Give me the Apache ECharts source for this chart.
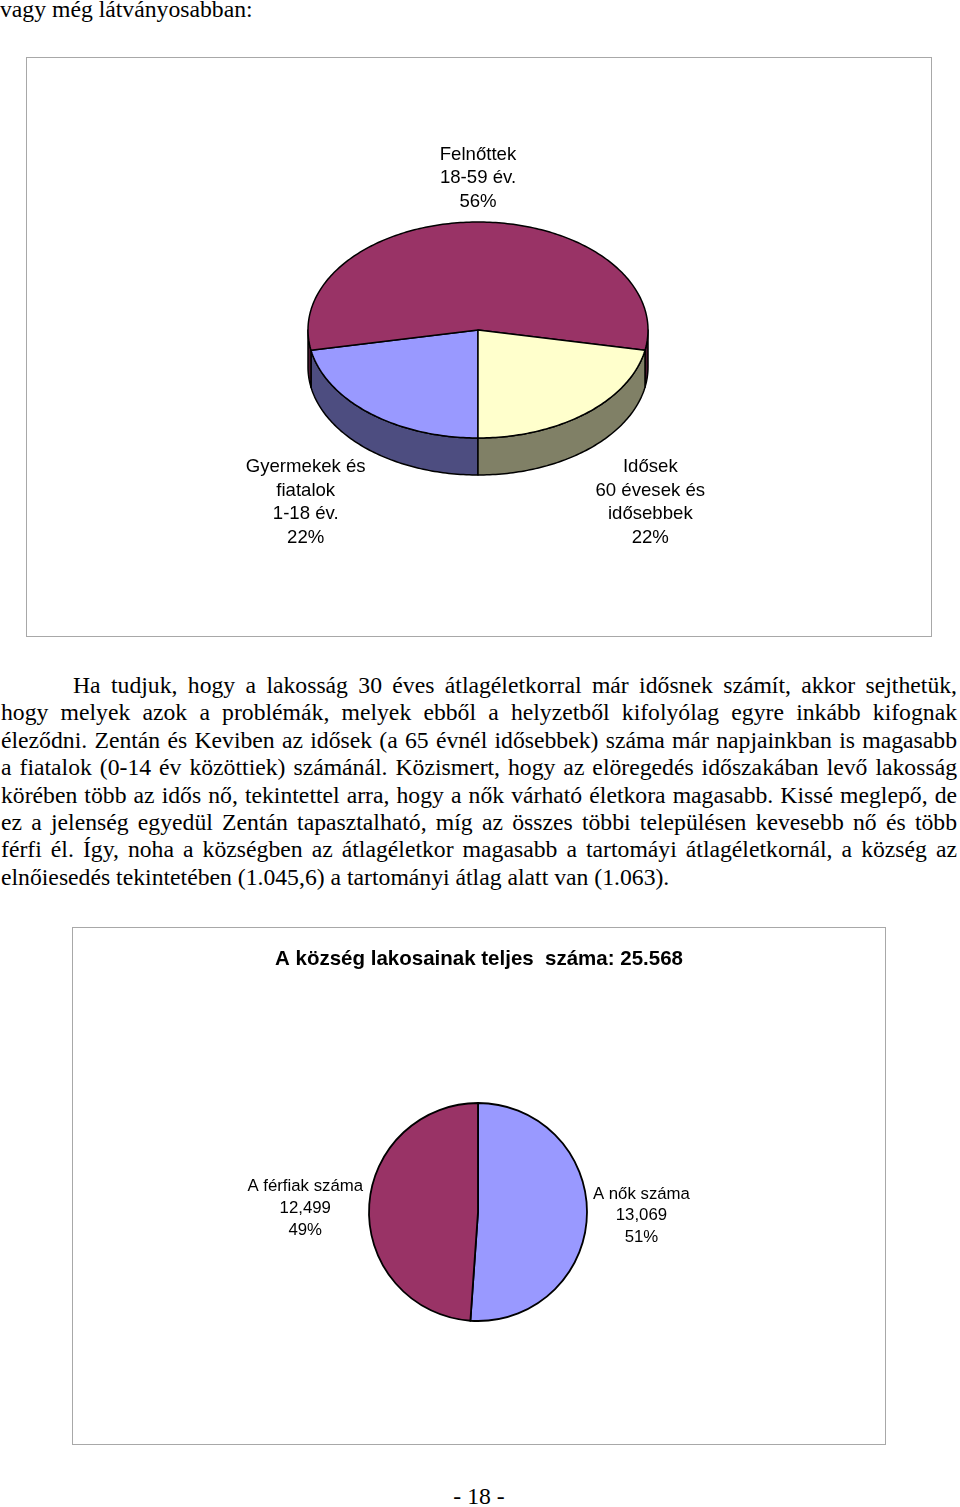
<!DOCTYPE html>
<html><head><meta charset="utf-8">
<script src="https://cdn.jsdelivr.net/npm/echarts@6/dist/echarts.min.js"></script>
<style>
html,body{margin:0;padding:0;background:#fff;width:960px;height:1507px;overflow:hidden;position:relative;}
.serif{font-family:"Liberation Serif","Times New Roman",serif;font-size:23.7px;line-height:27.4px;color:#000;position:absolute;}
.box{position:absolute;border:1.5px solid #a8a8a8;box-sizing:border-box;}
.chart{position:absolute;}
.pl{width:956px;box-sizing:border-box;text-align:justify;text-align-last:justify;}
.pl.last{text-align:left;text-align-last:left;}
</style></head><body>
<div class="serif" style="left:0;top:-4px;white-space:nowrap;">vagy még látványosabban:</div>
<div class="box" style="left:26px;top:57px;width:906px;height:580px"></div>
<div id="c1" class="chart" style="left:26px;top:57px;width:906px;height:580px"></div>
<div id="para" class="serif" style="left:1px;top:672px;width:956px;"></div>
<div class="box" style="left:72px;top:927px;width:814px;height:518px"></div>
<div id="c2" class="chart" style="left:72px;top:927px;width:814px;height:518px"></div>
<div class="serif" style="left:0;width:958px;text-align:center;top:1483px;">- 18 -</div>
<script>
// ---- Chart 1 data ----
const cats1 = ['Gyermekek és\nfiatalok\n1-18 év.', 'Felnőttek\n18-59 év.', 'Idősek\n60 évesek és\nidősebbek'];
const vals1 = [22, 56, 22];
// ---- Chart 2 data ----
const title2 = 'A község lakosainak teljes  száma: 25.568';
const cats2 = ['A nők száma', 'A férfiak száma'];
const vals2 = [13069, 12499];
// ---- Paragraph text ----
const paraLines = [
 'Ha tudjuk, hogy a lakosság 30 éves átlagéletkorral már idősnek számít, akkor sejthetük,',
 'hogy melyek azok a problémák, melyek ebből a helyzetből kifolyólag egyre inkább kifognak',
 'éleződni. Zentán és Keviben az idősek (a 65 évnél idősebbek) száma már napjainkban is magasabb',
 'a fiatalok (0-14 év közöttiek) számánál. Közismert, hogy az elöregedés időszakában levő lakosság',
 'körében több az idős nő, tekintettel arra, hogy a nők várható életkora magasabb. Kissé meglepő, de',
 'ez a jelenség egyedül Zentán tapasztalható, míg az összes többi településen kevesebb nő és több',
 'férfi él. Így, noha a községben az átlagéletkor magasabb a tartomáyi átlagéletkornál, a község az',
 'elnőiesedés tekintetében (1.045,6) a tartományi átlag alatt van (1.063).'
];

// styles
const topColors1 = ['#9999ff', '#993366', '#ffffcc'];
const sideColors1 = ['#4d4d80', '#4d1a33', '#808066'];
const colors2 = ['#9999ff', '#993366'];

const para = document.getElementById('para');
paraLines.forEach((t, i) => {
  const d = document.createElement('div');
  d.className = 'pl' + (i === paraLines.length - 1 ? ' last' : '');
  if (i === 0) d.style.paddingLeft = '72px';
  d.textContent = t;
  para.appendChild(d);
});

// ---- Chart 1: 3D pie via custom series ----
const P = {cx: 452, cy: 273, rx: 170, ry: 108, depth: 37, start: 270};
const tot1 = vals1.reduce((a, b) => a + b, 0);
const ang1 = [];
(function(){ let s = P.start; vals1.forEach(v => { const e = s - v / tot1 * 360; ang1.push([s, e]); s = e; }); })();
function ept(deg, dy) { const t = deg * Math.PI / 180; return [P.cx + P.rx * Math.cos(t), P.cy - P.ry * Math.sin(t) + (dy || 0)]; }
function arc(a, b, dy) { const n = Math.max(2, Math.ceil(Math.abs(b - a))); const pts = []; for (let j = 0; j <= n; j++) pts.push(ept(a + (b - a) * j / n, dy)); return pts; }
const edge = {stroke: '#000', lineWidth: 1.5, lineJoin: 'round'};

const c1 = echarts.init(document.getElementById('c1'));
c1.setOption({
  animation: false,
  series: [
    {
      type: 'custom', coordinateSystem: 'none', data: vals1, silent: true,
      renderItem: function (params) {
        const i = params.dataIndex, hi = ang1[i][0], lo = ang1[i][1];
        const ch = [];
        for (let k = -2; k <= 2; k++) {
          const a = Math.max(lo, 180 + 360 * k), b = Math.min(hi, 360 + 360 * k);
          if (b - a > 0.01) {
            ch.push({type: 'polygon', shape: {points: arc(a, b, 0).concat(arc(b, a, P.depth))},
              style: Object.assign({fill: sideColors1[i]}, edge)});
          }
        }
        return {type: 'group', children: ch};
      }
    },
    {
      type: 'custom', coordinateSystem: 'none', data: vals1, silent: true,
      renderItem: function (params, api) {
        const i = params.dataIndex, hi = ang1[i][0], lo = ang1[i][1];
        const pts = [[P.cx, P.cy]].concat(arc(hi, lo, 0));
        const m = (hi + lo) / 2 * Math.PI / 180, sn = Math.sin(m), cs = Math.cos(m);
        const front = sn < 0;
        const lx = P.cx + P.rx * 1.59 * cs;
        const ly = front ? P.cy - P.ry * 1.06 * sn + P.depth : P.cy - P.ry * 1.08 * sn;
        const pct = Math.round(api.value(0) / tot1 * 100) + '%';
        return {type: 'group', children: [
          {type: 'polygon', shape: {points: pts}, style: Object.assign({fill: topColors1[i]}, edge)},
          {type: 'text', style: {text: cats1[i] + '\n' + pct, x: lx, y: ly, align: 'center',
            verticalAlign: front ? 'top' : 'bottom', fontFamily: 'Liberation Sans', fontSize: 18.6,
            lineHeight: 23.5, fill: '#000'}}
        ]};
      }
    }
  ]
});

// ---- Chart 2: pie ----
function fmtNum(v) { return String(v).replace(/\B(?=(\d{3})+(?!\d))/g, ','); }
const c2 = echarts.init(document.getElementById('c2'));
c2.setOption({
  animation: false,
  color: colors2,
  title: {text: title2, left: 'center', top: 16,
    textStyle: {fontFamily: 'Liberation Sans', fontSize: 20.5, fontWeight: 'bold', color: '#000', lineHeight: 22}},
  series: [{
    type: 'pie', center: [406, 285], radius: [0, 109], startAngle: 90, clockwise: true,
    percentPrecision: 0, avoidLabelOverlap: false, silent: true,
    emphasis: {disabled: true},
    itemStyle: {borderColor: '#000', borderWidth: 1.8},
    data: cats2.map((n, i) => ({name: n, value: vals2[i]})),
    label: {show: true, position: 'outside', distanceToLabelLine: 6,
      formatter: p => '{t|' + p.name + '}\n{t|' + fmtNum(p.value) + '}\n{t|' + p.percent + '%}',
      rich: {t: {align: 'center', fontFamily: 'Liberation Sans', fontSize: 16.8, lineHeight: 21.7, color: '#000'}}},
    labelLine: {show: false, length: 0, length2: 0}
  }]
});
</script>
</body></html>
